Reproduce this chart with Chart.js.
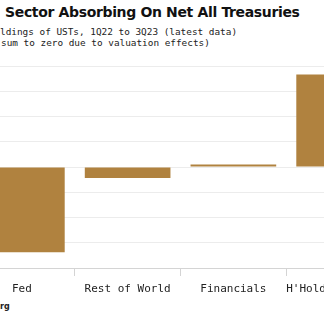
<!DOCTYPE html>
<html lang="en">
<head>
  <meta charset="UTF-8">
  <title>Sector Absorbing On Net All Treasuries</title>
  <script src="https://cdn.jsdelivr.net/npm/chart.js"></script>
  <style>
    body {
      margin: 0;
      width: 324px;
      height: 324px;
      overflow: hidden;
      position: relative;
      background: #fff;
    }
    .title {
      position: absolute;
      left: 5px;
      top: 4px;
      font-family: "DejaVu Sans", sans-serif;
      font-weight: bold;
      font-size: 14px;
      letter-spacing: -0.35px;
      color: #111;
      white-space: nowrap;
    }
    .sub {
      position: absolute;
      font-family: "DejaVu Sans Mono", monospace;
      font-size: 9.4px;
      color: #222;
      white-space: nowrap;
    }
    .src {
      position: absolute;
      left: 0;
      top: 302px;
      font-family: "DejaVu Sans", sans-serif;
      font-weight: bold;
      font-size: 8px;
      color: #222;
    }
    .chart-box {
      position: absolute;
      left: -31px;
      top: 60px;
      width: 423px;
      height: 240px;
    }
  </style>
</head>
<body>
  <div class="title">Sector Absorbing On Net All Treasuries</div>
  <div class="sub" style="left:0px; top:26px;">ldings of USTs, 1Q22 to 3Q23 (latest data)</div>
  <div class="sub" style="left:1px; top:37px;"> sum to zero due to valuation effects)</div>
  <div class="src">rg</div>
  <div class="chart-box">
    <canvas id="ustChart"></canvas>
  </div>

  <script>
    // change in UST holdings, $bn
    const sectors = ['Fed', 'Rest of World', 'Financials', "H'Holds & Others"];
    const holdingsChange = [-845, -110, 25, 915];
    const yTicks = [-1000, -750, -500, -250, 0, 250, 500, 750, 1000];

    new Chart(document.getElementById('ustChart'), {
      type: 'bar',
      data: {
        labels: sectors,
        datasets: [{
          data: holdingsChange,
          backgroundColor: '#b0823f',
          borderWidth: 0,
          categoryPercentage: 1,
          barPercentage: 0.81
        }]
      },
      options: {
        responsive: true,
        maintainAspectRatio: false,
        animation: false,
        layout: { padding: { top: 6, left: 0, right: 0, bottom: 0 } },
        plugins: {
          legend: { display: false },
          tooltip: { enabled: false }
        },
        scales: {
          x: {
            offset: true,
            grid: {
              offset: true,
              drawOnChartArea: false,
              drawTicks: true,
              tickLength: 8,
              color: '#d4d4d4'
            },
            border: { display: true, color: '#d4d4d4' },
            ticks: {
              padding: 7,
              autoSkip: false,
              maxRotation: 0,
              color: '#222',
              font: { family: 'DejaVu Sans Mono', size: 11 }
            },
            afterFit(scale) {
              // the picture is cropped, so let the outer labels run off the edge
              scale.height = 32;
              scale.paddingLeft = 0;
              scale.paddingRight = 0;
            }
          },
          y: {
            min: -1000,
            max: 1000,
            afterBuildTicks(scale) {
              scale.ticks = yTicks.map(v => ({ value: v }));
            },
            grid: { color: '#ececec', drawTicks: false },
            border: { display: false },
            ticks: { display: false },
            afterFit(scale) { scale.width = 0; }
          }
        }
      }
    });
  </script>
</body>
</html>
